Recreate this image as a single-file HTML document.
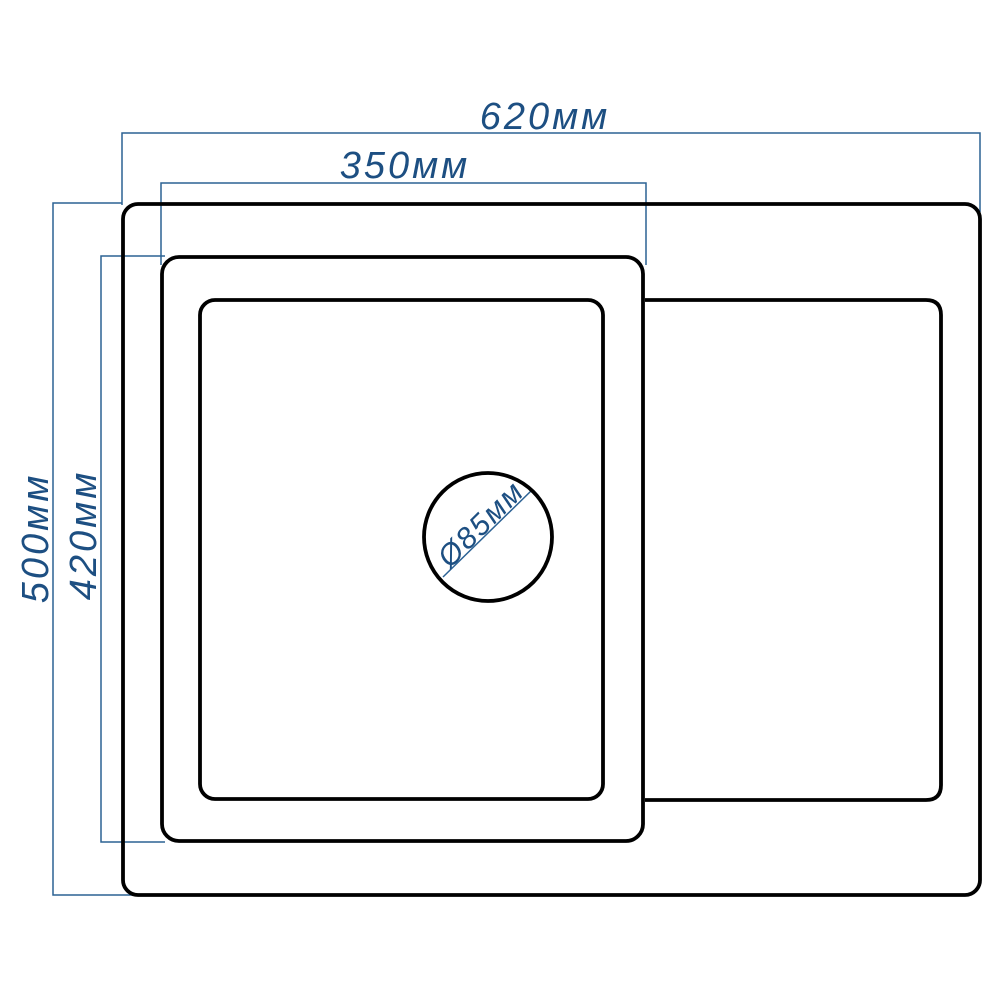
<!DOCTYPE html>
<html><head><meta charset="utf-8"><style>html,body{margin:0;padding:0;background:#fff}</style></head>
<body>
<svg width="1000" height="1000" viewBox="0 0 1000 1000" xmlns="http://www.w3.org/2000/svg">
<g fill="none" stroke="#2c6294" stroke-width="1.5">
<polyline points="122,205 122,133 980,133 980,212"/>
<polyline points="161,265 161,183 646,183 646,265"/>
<polyline points="122,203 53,203 53,895 135,895"/>
<polyline points="165,256 101,256 101,842 165,842"/>
<line x1="443" y1="577" x2="532" y2="490"/>
</g>
<g fill="none" stroke="#000" stroke-width="3.8">
<rect x="123" y="204" width="857" height="691" rx="15"/>
<rect x="162" y="257" width="481" height="584" rx="17"/>
<rect x="200" y="300" width="403" height="499" rx="15"/>
<path d="M645,300 H926 Q941,300 941,315 V785 Q941,800 926,800 H645"/>
<circle cx="488" cy="537" r="64"/>
</g>
<g fill="#1d4f82" font-family="Liberation Sans, sans-serif" font-style="italic" font-size="38" letter-spacing="3" text-anchor="middle">
<text x="545" y="129">620мм</text>
<text x="405" y="178">350мм</text>
<text transform="translate(48,538) rotate(-90)">500мм</text>
<text transform="translate(96,535) rotate(-90)">420мм</text>
<text font-size="30" letter-spacing="2" transform="translate(488,531) rotate(-45)">Ø85мм</text>
</g>
</svg>
</body></html>
